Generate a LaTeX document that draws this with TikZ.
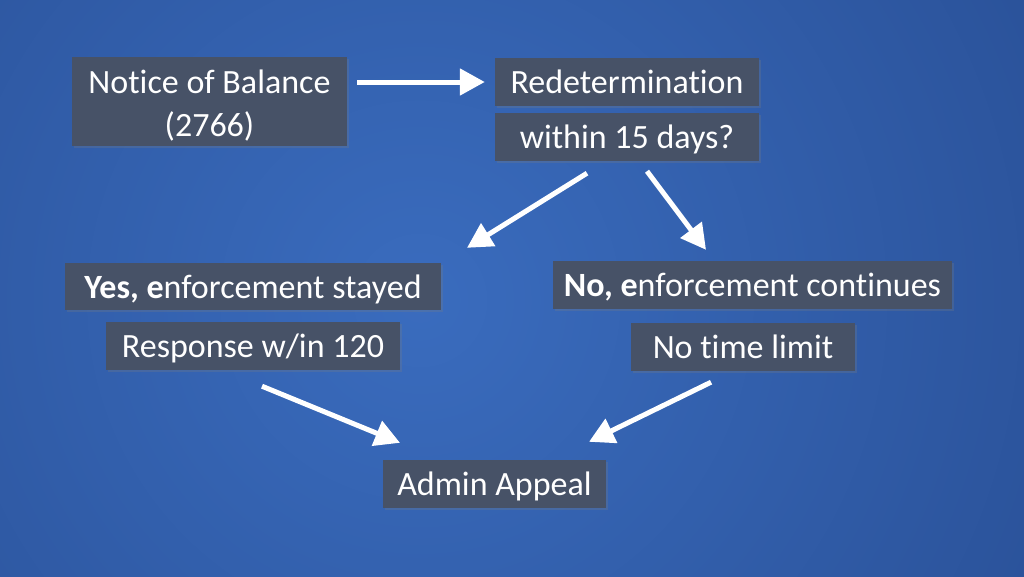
\documentclass[tikz,border=0pt]{standalone}
\usepackage{fontspec}
\setmainfont{Carlito}[Ligatures={NoCommon}]
\usetikzlibrary{arrows.meta,calc,shadows}
\definecolor{boxfill}{RGB}{71,82,103}
\definecolor{bginner}{RGB}{58,108,190}
\definecolor{bgouter}{RGB}{40,78,148}
\begin{document}
\begin{tikzpicture}[x=1pt,y=-1pt,
  box/.style={fill=boxfill, text=white, inner sep=0pt, align=center,
    font=\fontsize{34}{43}\selectfont, text height=23pt, text depth=0pt,
    drop shadow={opacity=0.25, shadow xshift=2pt, shadow yshift=-2pt}},
  arr/.style={draw=white, line width=5pt, -{Triangle[length=25pt,width=26pt]}}]
\useasboundingbox (0,0) rectangle (1024,576);
\begin{scope}
\clip (0,0) rectangle (1024,576);
\fill[bgouter] (0,0) rectangle (1024,576);
\fill[inner color=bginner, outer color=bgouter] (420,300) circle (800);
\end{scope}
\node[box, minimum width=275pt, minimum height=89pt, text height=69pt] (n1) at (209.5,101.5) {Notice of Balance\\(2766)};
\node[box, minimum width=264pt, minimum height=48pt] (n2) at (627,82) {Redetermination};
\node[box, minimum width=264pt, minimum height=48pt] (n3) at (627,137) {within 15 days?};
\node[box, minimum width=376pt, minimum height=47pt] (n4) at (253,286.5) {\textbf{Yes, e}nforcement stayed};
\node[box, minimum width=294pt, minimum height=48pt] (n5) at (253,346) {Response w/in 120};
\node[box, minimum width=399pt, minimum height=48pt] (n6) at (752.5,285) {\textbf{No, e}nforcement continues};
\node[box, minimum width=224pt, minimum height=48pt] (n7) at (743,347) {No time limit};
\node[box, minimum width=223pt, minimum height=48pt] (n8) at (494.5,484) {Admin Appeal};
\draw[arr] ([xshift=10pt]n1.east |- n2.west) -- ([xshift=-10pt]n2.west);
\draw[arr] ($(n3.south)+(-40,12)$) -- ($(n4.north)+(214,-15)$);
\draw[arr] ($(n3.south)+(20,10)$) -- ($(n6.north)+(-46.5,-11)$);
\draw[arr] ($(n5.south)+(9,16)$) -- ($(n8.north)+(-94.5,-17)$);
\draw[arr] ($(n7.south)+(-32,11)$) -- ($(n8.north)+(94.5,-18)$);
\end{tikzpicture}
\end{document}
